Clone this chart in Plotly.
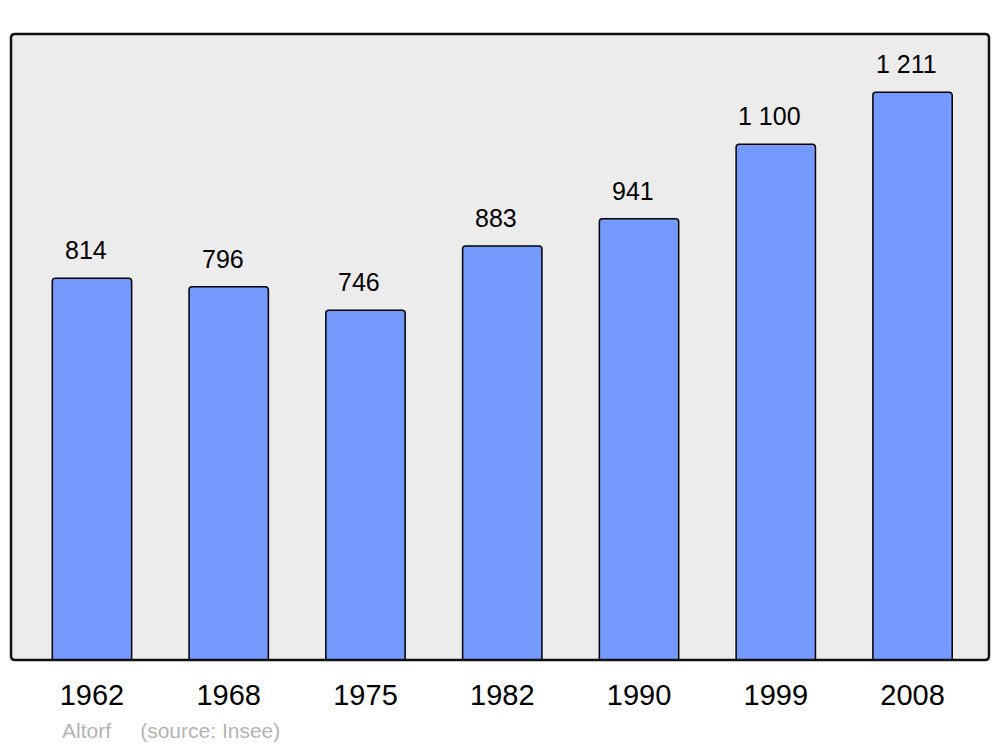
import plotly.graph_objects as go

# population by census year
years = ["1962", "1968", "1975", "1982", "1990", "1999", "2008"]
population = [814, 796, 746, 883, 941, 1100, 1211]
labels = ["814", "796", "746", "883", "941", "1 100", "1 211"]

BAR = "#7499ff"
BG = "#ececec"
INK = "#000000"
GREY = "#b3b3b3"
FONT = "Liberation Sans, Arial, sans-serif"

fig = go.Figure(go.Bar(
    x=years, y=population, width=0.58,
    marker=dict(color=BAR, line=dict(color=INK, width=1.5), cornerradius=3),
    hoverinfo="skip"))

# value labels above the bars (x by category index, years look numeric)
for i, (v, t) in enumerate(zip(population, labels)):
    fig.add_annotation(x=i, y=v, text=t, showarrow=False, yanchor="bottom",
                       yshift=12, xshift=-6, font=dict(size=25, color=INK))

# frame round the plot area, rounded corners
rx, ry = 4 / 978, 4 / 626
frame = (f"M {rx},0 L {1 - rx},0 Q 1,0 1,{ry} L 1,{1 - ry} Q 1,1 {1 - rx},1 "
         f"L {rx},1 Q 0,1 0,{1 - ry} L 0,{ry} Q 0,0 {rx},0 Z")
fig.add_shape(type="path", path=frame, xref="paper", yref="paper",
              line=dict(color="#111111", width=2.5), layer="above")

fig.add_annotation(text="Altorf &nbsp;&nbsp;&nbsp; (source: Insee)", xref="paper", yref="paper",
                   x=0.05, y=-0.113, xanchor="left", yanchor="middle", showarrow=False,
                   font=dict(size=21, color=GREY))

fig.update_xaxes(type="category", range=[-0.592, 6.559], showgrid=False, zeroline=False,
                 ticks="outside", ticklen=9, tickcolor="rgba(0,0,0,0)",
                 tickfont=dict(size=29, color=INK))
fig.update_yaxes(range=[0, 1335], visible=False)

fig.update_layout(
    width=1000, height=747,
    margin=dict(l=11, r=11, t=34, b=87),
    paper_bgcolor="white", plot_bgcolor=BG,
    font=dict(family=FONT, color=INK),
    showlegend=False)

fig.write_html("out.html", config={"displayModeBar": False},
               post_script="document.body.style.margin='0px';")
